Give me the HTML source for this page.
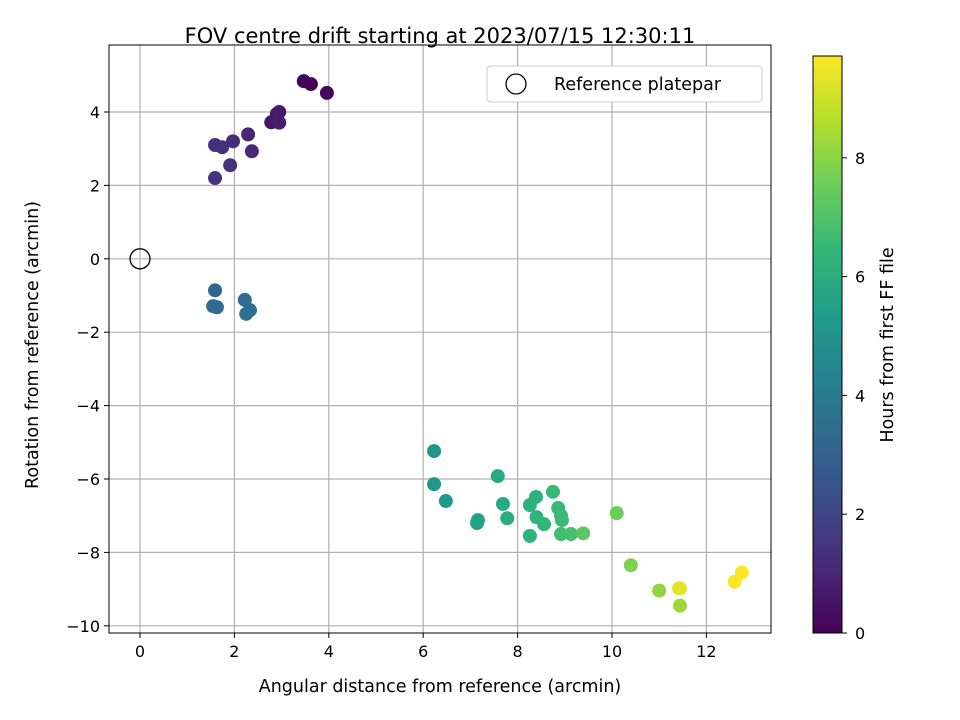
<!DOCTYPE html>
<html><head><meta charset="utf-8"><style>
body{margin:0;background:#fff;}
svg{display:block;font-family:"DejaVu Sans","Liberation Sans",sans-serif;}
</style></head><body>
<svg id="chart" width="960" height="720" xmlns="http://www.w3.org/2000/svg">
<defs><linearGradient id="cbg" x1="0" y1="1" x2="0" y2="0"></linearGradient></defs>
<text x="440" y="43" text-anchor="middle" font-size="21">FOV centre drift starting at 2023/07/15 12:30:11</text>
<g id="grid"></g><g id="pts"></g><g id="axes"></g>
<text x="440" y="692" text-anchor="middle" font-size="17.5">Angular distance from reference (arcmin)</text>
<text transform="translate(38,345) rotate(-90)" text-anchor="middle" font-size="17.5">Rotation from reference (arcmin)</text>
<g>
<rect x="487" y="66" width="275" height="36" rx="4" fill="#fff" stroke="#ccc"/>
<circle cx="516" cy="84" r="10" fill="none" stroke="#000" stroke-width="1.3"/>
<text x="554" y="90" font-size="17.5">Reference platepar</text>
</g>
<rect x="813" y="56" width="29" height="577" fill="url(#cbg)" stroke="#000" stroke-width="1"/>
<g id="cbticks"></g>
<text transform="translate(893,345) rotate(-90)" text-anchor="middle" font-size="17.5">Hours from first FF file</text>
</svg>
<script>
const xs=[3.47,3.62,3.96,2.78,2.9,2.95,2.95,2.29,2.37,1.97,1.59,1.74,1.91,1.59,1.59,1.55,1.63,2.22,2.33,2.25,6.23,6.23,6.48,7.14,7.16,7.58,7.69,7.78,8.26,8.39,8.26,8.4,8.56,8.75,8.86,8.92,8.94,8.92,9.13,9.39,10.1,10.4,11.0,11.44,11.42,11.44,12.6,12.75];
const ys=[4.84,4.76,4.52,3.72,3.95,4.0,3.71,3.39,2.93,3.2,3.1,3.04,2.55,2.2,-0.86,-1.29,-1.32,-1.12,-1.40,-1.5,-5.24,-6.14,-6.6,-7.2,-7.12,-5.92,-6.68,-7.07,-6.71,-6.49,-7.55,-7.04,-7.23,-6.35,-6.79,-7.0,-7.12,-7.5,-7.5,-7.48,-6.93,-8.35,-9.04,-9.45,-8.98,-8.98,-8.8,-8.55];
const hrs=[0.1,0.15,0.2,0.6,0.7,0.75,0.8,1.0,1.1,1.2,1.3,1.35,1.4,1.5,3.2,3.3,3.3,3.4,3.45,3.5,5.0,5.1,5.2,5.6,5.6,5.9,5.9,6.0,6.2,6.2,6.3,6.3,6.4,6.5,6.5,6.6,6.6,6.7,6.8,7.2,7.5,7.8,8.1,8.3,9.3,9.3,9.6,9.7];
const xTicks=[0,2,4,6,8,10,12];
const yTicks=[4,2,0,-2,-4,-6,-8,-10];
const cTicks=[0,2,4,6,8];
const X=v=>140+47.2*v, Y=v=>258.8-36.7*v, C=v=>633-59.4*v;
const L=109,R=771,T=45,B=633, HMAX=9.71;
const vir=[[68,1,84],[72,40,120],[62,74,137],[49,104,142],[38,130,142],[31,158,137],[53,183,121],[109,205,89],[180,222,44],[253,231,37]];
function col(t){t=Math.max(0,Math.min(1,t))*9;const i=Math.min(8,Math.floor(t)),f=t-i;const a=vir[i],b=vir[i+1];return`rgb(${a.map((c,k)=>Math.round(c+(b[k]-c)*f)).join(',')})`;}
const NS='http://www.w3.org/2000/svg';
function mk(tag,at,parent){const e=document.createElementNS(NS,tag);for(const k in at)e.setAttribute(k,at[k]);parent.appendChild(e);return e;}
const grid=document.getElementById('grid'),axes=document.getElementById('axes'),pts=document.getElementById('pts');
xTicks.forEach(v=>{const g=mk('line',{x1:X(v),x2:X(v),y1:T,y2:B,stroke:'#b0b0b0','stroke-width':1.2},grid);


const t=mk('line',{x1:X(v),x2:X(v),y1:B,y2:B+5,stroke:'#000'},axes);


const l=mk('text',{x:X(v),y:B+24,'text-anchor':'middle','font-size':16},axes);l.textContent=v;

});
yTicks.forEach(v=>{const g=mk('line',{x1:L,x2:R,y1:Y(v),y2:Y(v),stroke:'#b0b0b0','stroke-width':1.2},grid);


const t=mk('line',{x1:L-5,x2:L,y1:Y(v),y2:Y(v),stroke:'#000'},axes);


const l=mk('text',{x:L-9,y:Y(v)+6,'text-anchor':'end','font-size':16},axes);l.textContent=v<0?'\u2212'+(-v):v;

});
const fr=mk('rect',{x:L,y:T,width:R-L,height:B-T,fill:'none',stroke:'#000','stroke-width':1},axes);


xs.forEach((x,i)=>{const c=mk('circle',{cx:X(x),cy:Y(ys[i]),r:7,fill:col(hrs[i]/HMAX)},pts);

});
const ref=mk('circle',{cx:X(0),cy:Y(0),r:10,fill:'none',stroke:'#000','stroke-width':1.3},pts);


const gr=document.getElementById('cbg');
for(let i=0;i<=9;i++){mk('stop',{offset:i/9,'stop-color':`rgb(${vir[i].join(',')})`},gr);}
const cb=document.getElementById('cbticks');
cTicks.forEach(v=>{const t=mk('line',{x1:842,x2:847,y1:C(v),y2:C(v),stroke:'#000'},cb);


const l=mk('text',{x:855,y:C(v)+6,'font-size':16},cb);l.textContent=v;

});
</script>
</body></html>
